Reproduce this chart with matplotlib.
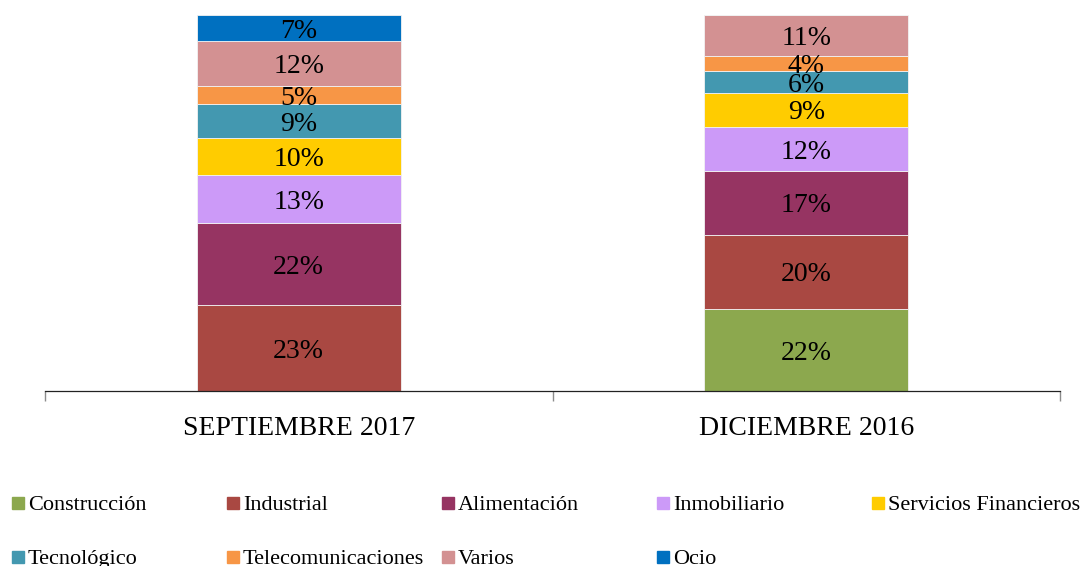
import numpy as np
import matplotlib.pyplot as plt
from matplotlib.patches import Rectangle

plt.rcParams['font.family'] = ['Liberation Serif', 'DejaVu Serif']

# datos
periodos = ['SEPTIEMBRE 2017', 'DICIEMBRE 2016']
sectores = ['Construcción', 'Industrial', 'Alimentación', 'Inmobiliario',
            'Servicios Financieros', 'Tecnológico', 'Telecomunicaciones',
            'Varios', 'Ocio']
sep_2017 = [0, 23, 22, 13, 10, 9, 5, 12, 7]
dic_2016 = [22, 20, 17, 12, 9, 6, 4, 11, 0]
colores = ['#8CA84E', '#A94842', '#963462', '#CC9AF8', '#FFCC00',
           '#4398B0', '#F79646', '#D39192', '#0070C0']

valores = np.array([sep_2017, dic_2016], dtype=float).T  # sector x periodo

W, H = 1082, 566
fig = plt.figure(figsize=(W / 100, H / 100), dpi=100)
ax = fig.add_axes([45 / W, 1 - 391 / H, 1015 / W, (391 - 15) / H])

x = np.arange(len(periodos))
base = np.zeros(len(periodos))
for i, sector in enumerate(sectores):
    v = valores[i]
    ax.bar(x, v, width=0.402, bottom=base, color=colores[i],
           edgecolor='#f2f2f2', linewidth=0.6, label=sector)
    for j in range(len(periodos)):
        if v[j] > 0:
            ax.text(x[j], base[j] + v[j] / 2, f'{int(v[j])}%',
                    ha='center', va='center_baseline', fontsize=20,
                    color='black')
    base += v

ax.set_xlim(-0.5, 1.5)
ax.set_ylim(0, base.max())
for s in ['top', 'right', 'left']:
    ax.spines[s].set_visible(False)
ax.spines['bottom'].set_color('#222222')
ax.spines['bottom'].set_linewidth(0.9)
ax.set_yticks([])
ax.set_xticks(x)
ax.set_xticklabels(periodos, fontsize=20)
ax.tick_params(axis='x', which='major', length=0, pad=18)
ax.set_xticks([-0.5, 0.5, 1.5], minor=True)
ax.tick_params(axis='x', which='minor', length=7, color='#8c8c8c',
               width=1, direction='out')

# leyenda manual
for i, sector in enumerate(sectores):
    col, row = i % 5, i // 5
    xm = 12 + col * 215
    ym = 503 + row * 54
    fig.add_artist(Rectangle((xm / W, 1 - (ym + 6) / H), 12 / W, 12 / H,
                             transform=fig.transFigure, color=colores[i]))
    fig.text((xm + 16) / W, 1 - ym / H, sector, fontsize=16,
             ha='left', va='center_baseline')

fig.savefig('out.png', dpi=100)
